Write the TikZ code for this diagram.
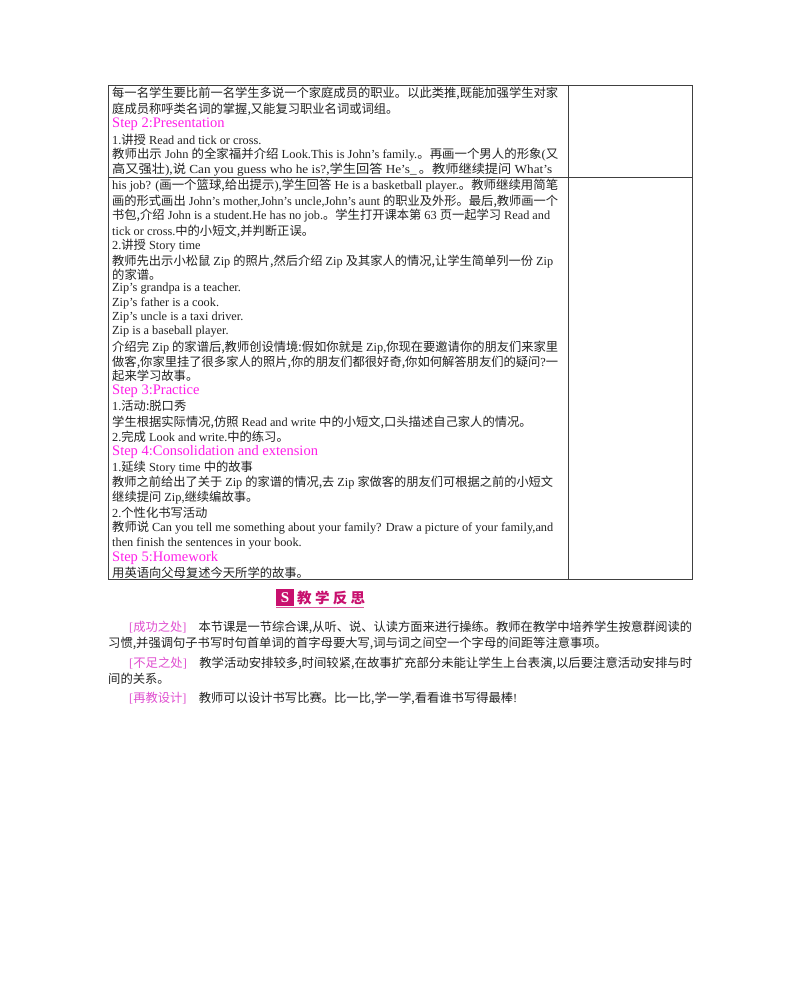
\documentclass[tikz,border=0pt]{standalone}
\usepackage{fontspec}
\usepackage{graphicx}
\setmainfont{Liberation Serif}
\newfontfamily\cjkf{Noto Sans CJK SC}[Scale=1.0]
\newcommand\zh[1]{{\cjkf #1}}
\newcommand\fl[2]{\resizebox{#1}{\height}{#2}}
\definecolor{stepc}{HTML}{FF1FE8}
\definecolor{brc}{HTML}{E050D0}
\definecolor{headc}{HTML}{C8106E}
\definecolor{txt}{HTML}{222222}
\tikzset{ln/.style={anchor=west,inner sep=0pt,font=\fontsize{12.3}{13}\selectfont,text=txt},
stp/.style={anchor=west,inner sep=0pt,font=\fontsize{14.5}{15}\selectfont,text=stepc},
grid/.style={draw=black!75,line width=0.8pt}}
\begin{document}
\begin{tikzpicture}[x=1pt,y=-1pt]
\useasboundingbox (0,0) rectangle (800,994);
\fill[white] (0,0) rectangle (800,994);
% table
\draw[grid] (108,85) rectangle (692,579);
\draw[grid] (568,85) -- (568,579);
\draw[grid] (108,177) -- (692,177);
\def\L{112}
\node[ln] (l1) at (\L,93) {\fl{446pt}{\zh{每一名学生要比前一名学生多说一个家庭成员的职业。以此类推,既能加强学生对家}}};
\node[ln] (l2) at (\L,109) {\zh{庭成员称呼类名词的掌握,又能复习职业名词或词组。}};
\node[stp] (s2) at (\L,124) {Step 2:Presentation};
\node[ln] (l3) at (\L,140) {1.\zh{讲授} Read and tick or cross.};
\node[ln] (l4) at (\L,155) {\fl{446pt}{\zh{教师出示} John \zh{的全家福并介绍} Look.This is John's family.\zh{。再画一个男人的形象}(\zh{又}}};
\node[ln] (l5) at (\L,170) {\fl{440pt}{\zh{高又强壮}),\zh{说} Can you guess who he is?,\zh{学生回答} He's\_\,\zh{。教师继续提问} What's}};
\node[ln] (l6) at (\L,186) {\fl{446pt}{his job? (\zh{画一个篮球,给出提示}),\zh{学生回答} He is a basketball player.\zh{。教师继续用简笔}}};
\node[ln] (l7) at (\L,201) {\fl{446pt}{\zh{画的形式画出} John's mother,John's uncle,John's aunt \zh{的职业及外形。最后,教师画一个}}};
\node[ln] (l8) at (\L,216) {\fl{438pt}{\zh{书包,介绍} John is a student.He has no job.\zh{。学生打开课本第} 63 \zh{页一起学习} Read and}};
\node[ln] (l9) at (\L,231) {tick or cross.\zh{中的小短文,并判断正误。}};
\node[ln] (l10) at (\L,246) {2.\zh{讲授} Story time};
\node[ln] (l11) at (\L,262) {\fl{441pt}{\zh{教师先出示小松鼠} Zip \zh{的照片,然后介绍} Zip \zh{及其家人的情况,让学生简单列一份} Zip}};
\node[ln] (l12) at (\L,275) {\zh{的家谱。}};
\node[ln] (l13) at (\L,289) {Zip's grandpa is a teacher.};
\node[ln] (l14) at (\L,303) {Zip's father is a cook.};
\node[ln] (l15) at (\L,318) {Zip's uncle is a taxi driver.};
\node[ln] (l16) at (\L,332) {Zip is a baseball player.};
\node[ln] (l17) at (\L,348) {\fl{446pt}{\zh{介绍完} Zip \zh{的家谱后,教师创设情境:假如你就是} Zip,\zh{你现在要邀请你的朋友们来家里}}};
\node[ln] (l18) at (\L,362) {\fl{446pt}{\zh{做客,你家里挂了很多家人的照片,你的朋友们都很好奇,你如何解答朋友们的疑问}?\zh{一}}};
\node[ln] (l19) at (\L,376) {\zh{起来学习故事。}};
\node[stp] (s3) at (\L,391) {Step 3:Practice};
\node[ln] (l20) at (\L,406) {1.\zh{活动:脱口秀}};
\node[ln] (l21) at (\L,422) {\zh{学生根据实际情况,仿照} Read and write \zh{中的小短文,口头描述自己家人的情况。}};
\node[ln] (l22) at (\L,437) {2.\zh{完成} Look and write.\zh{中的练习。}};
\node[stp] (s4) at (\L,452) {Step 4:Consolidation and extension};
\node[ln] (l23) at (\L,468) {1.\zh{延续} Story time \zh{中的故事}};
\node[ln] (l24) at (\L,483) {\fl{441pt}{\zh{教师之前给出了关于} Zip \zh{的家谱的情况,去} Zip \zh{家做客的朋友们可根据之前的小短文}}};
\node[ln] (l25) at (\L,498) {\zh{继续提问} Zip,\zh{继续编故事。}};
\node[ln] (l26) at (\L,513) {2.\zh{个性化书写活动}};
\node[ln] (l27) at (\L,528) {\fl{441pt}{\zh{教师说} Can you tell me something about your family? Draw a picture of your family,and}};
\node[ln] (l28) at (\L,543) {then finish the sentences in your book.};
\node[stp] (s5) at (\L,558) {Step 5:Homework};
\node[ln] (l29) at (\L,573) {\zh{用英语向父母复述今天所学的故事。}};
% heading
\fill[headc] (276,589) rectangle (294,606);
\node[inner sep=0pt,text=white,font=\bfseries\fontsize{15}{15}\selectfont] (ic) at (285,597.5) {S};
\node[anchor=west,inner sep=0pt,text=headc,font=\fontsize{14.5}{15}\selectfont] (hd) at (297,597.5) {\zh{\bfseries 教 学 反 思}};
\draw[headc!70,line width=0.7pt] (276,607.5) -- (364,607.5);
% reflection
\node[ln] (r1) at (129,627) {\fl{563pt}{\textcolor{brc}{[\zh{成功之处}]}\quad\zh{本节课是一节综合课,从听、说、认读方面来进行操练。教师在教学中培养学生按意群阅读的}}};
\node[ln] (r2) at (108,643) {\zh{习惯,并强调句子书写时句首单词的首字母要大写,词与词之间空一个字母的间距等注意事项。}};
\node[ln] (r3) at (129,663) {\fl{563pt}{\textcolor{brc}{[\zh{不足之处}]}\quad\zh{教学活动安排较多,时间较紧,在故事扩充部分未能让学生上台表演,以后要注意活动安排与时}}};
\node[ln] (r4) at (108,679) {\zh{间的关系。}};
\node[ln] (r5) at (129,698) {\textcolor{brc}{[\zh{再教设计}]}\quad\zh{教师可以设计书写比赛。比一比,学一学,看看谁书写得最棒}!};
\end{tikzpicture}
\end{document}
